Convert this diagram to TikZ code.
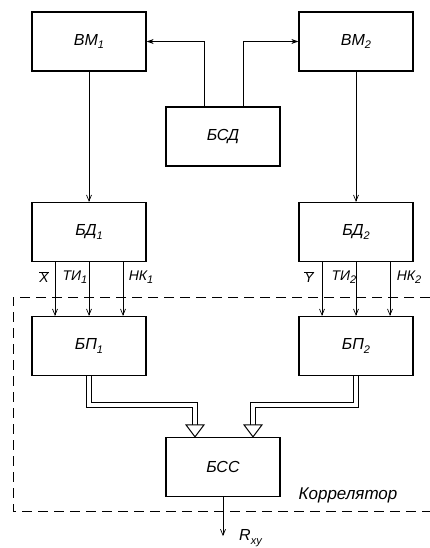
\documentclass[tikz,border=0pt]{standalone}
\usepackage{fontspec}
\setmainfont{Liberation Sans}
\usetikzlibrary{arrows.meta,calc}
\newcommand{\sbx}[1]{\raisebox{-0.45ex}{\fontsize{11}{11}\selectfont\itshape #1}}
\newcommand{\barx}[1]{$\overline{\hbox{\itshape #1}}$}
\begin{document}
\begin{tikzpicture}[x=1pt,y=-1pt,
  blk/.style={draw,line width=1.3pt,minimum width=114pt,minimum height=59pt,inner sep=0pt,font=\fontsize{16}{18}\selectfont\itshape},
  sig/.style={line width=0.7pt,-{Straight Barb[length=6pt,width=5pt]}},
  ctl/.style={line width=1pt,-{Stealth[length=7pt,width=5pt]}},
  lbl/.style={font=\fontsize{14}{16}\selectfont\itshape,inner sep=0pt},
  hollow/.style={double distance=4.5pt,line width=1pt,line join=miter}]
\useasboundingbox (0,0) rectangle (430,548);
\node[blk] (bm1) at (89,41.5) {ВМ\sbx{1}};
\node[blk] (bm2) at (356,41.5) {ВМ\sbx{2}};
\node[blk] (bsd) at (223,136.5) {БСД};
\node[blk] (bd1) at (89,232) {БД\sbx{1}};
\node[blk] (bd2) at (356,232) {БД\sbx{2}};
\node[blk] (bp1) at (89,346) {БП\sbx{1}};
\node[blk] (bp2) at (356,346) {БП\sbx{2}};
\node[blk] (bss) at (223,467) {БСС};
% control arrows
\draw[ctl] ([xshift=-19pt]bsd.north) |- (bm1.east);
\draw[ctl] ([xshift=20pt]bsd.north) |- (bm2.west);
% BM -> BD
\draw[sig] (bm1) -- (bd1);
\draw[sig] (bm2) -- (bd2);
% BD -> BP
\draw[sig] ([xshift=-34pt]bd1.south) -- ([xshift=-34pt]bp1.north);
\draw[sig] (bd1.south) -- (bp1.north);
\draw[sig] ([xshift=34pt]bd1.south) -- ([xshift=34pt]bp1.north);
\draw[sig] ([xshift=-34pt]bd2.south) -- ([xshift=-34pt]bp2.north);
\draw[sig] (bd2.south) -- (bp2.north);
\draw[sig] ([xshift=34pt]bd2.south) -- ([xshift=34pt]bp2.north);
\node[lbl] (lx) at (44,277) {\barx{X}};
\node[lbl] (lt1) at (75,277) {ТИ\sbx{1}};
\node[lbl] (lh1) at (141,277) {НК\sbx{1}};
\node[lbl] (ly) at (309,277) {\barx{Y}};
\node[lbl] (lt2) at (344,277) {ТИ\sbx{2}};
\node[lbl] (lh2) at (409,277) {НК\sbx{2}};
% hollow arrows
\coordinate (h1) at ([xshift=-28pt,yshift=12pt]bss.north);
\coordinate (h2) at ([xshift=30pt,yshift=12pt]bss.north);
\draw[hollow] (bp1.south) -- ++(0,29) -| (h1);
\draw[hollow] (bp2.south) -- ++(0,29) -| (h2);
\draw[line width=1pt,fill=white,line join=miter] ([xshift=-9pt]h1) -- ([xshift=9pt]h1) -- ([xshift=-28pt]bss.north) -- cycle;
\draw[line width=1pt,fill=white,line join=miter] ([xshift=-9pt]h2) -- ([xshift=9pt]h2) -- ([xshift=30pt]bss.north) -- cycle;
% dashed frame
\draw[line width=0.9pt,dash pattern=on 10pt off 6pt] (430,297) -- (13,297) -- (13,511) -- (430,511);
\node[font=\fontsize{17}{19}\selectfont\itshape,inner sep=0pt] (corr) at (348,495) {Коррелятор};
% output
\coordinate (out) at ([yshift=-39pt]bss.south);
\draw[sig] (bss.south) -- (out);
\node[font=\fontsize{16}{18}\selectfont\itshape,inner sep=0pt,anchor=west] (rxy) at (239,538) {R\sbx{xy}};
\end{tikzpicture}
\end{document}
